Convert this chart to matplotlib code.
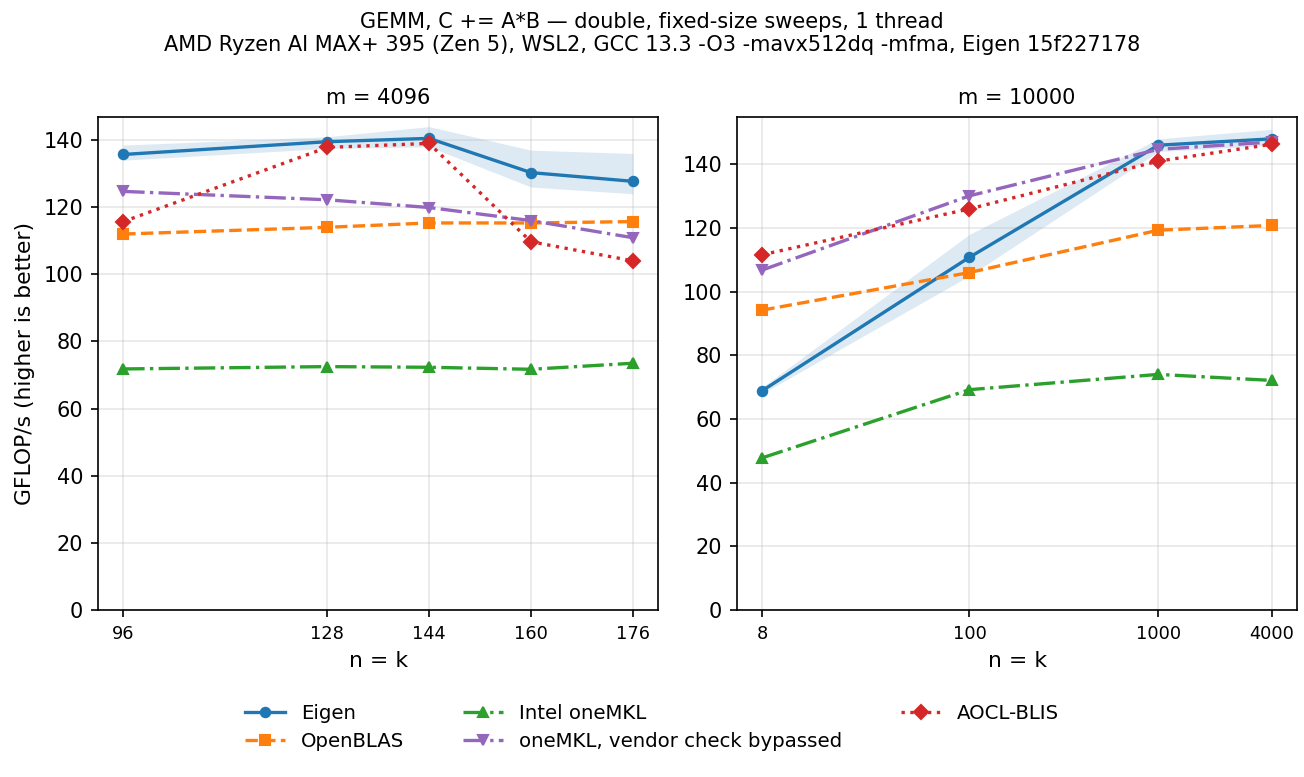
import numpy as np
import matplotlib.pyplot as plt

# m = 4096
nk_a = [96, 128, 144, 160, 176]
eigen_a = [135.7, 139.5, 140.5, 130.3, 127.7]
eigen_lo_a = [134.0, 137.5, 138.0, 126.0, 124.0]
eigen_hi_a = [138.5, 141.0, 144.0, 137.0, 136.0]
openblas_a = [112.0, 114.0, 115.3, 115.3, 115.7]
mkl_a = [71.8, 72.5, 72.3, 71.7, 73.5]
mkl_byp_a = [124.7, 122.2, 119.9, 116.0, 110.9]
blis_a = [115.7, 137.8, 139.0, 109.7, 104.0]

# m = 10000
nk_b = [8, 100, 1000, 4000]
eigen_b = [68.9, 110.8, 146.0, 148.0]
eigen_lo_b = [68.0, 105.0, 144.0, 146.0]
eigen_hi_b = [70.0, 118.0, 148.0, 151.0]
openblas_b = [94.2, 106.0, 119.3, 120.8]
mkl_b = [47.8, 69.2, 74.0, 72.1]
mkl_byp_b = [106.8, 130.1, 144.7, 147.0]
blis_b = [111.6, 126.0, 141.0, 146.3]

labels = ["Eigen", "OpenBLAS", "Intel oneMKL", "oneMKL, vendor check bypassed", "AOCL-BLIS"]
colors = ["#1f77b4", "#ff7f0e", "#2ca02c", "#9467bd", "#d62728"]
styles = ["-", "--", "-.", "-.", ":"]
markers = ["o", "s", "^", "v", "D"]

fig, axes = plt.subplots(1, 2, figsize=(1304 / 150, 777 / 150), dpi=150)

panels = [
    (axes[0], nk_a, [eigen_a, openblas_a, mkl_a, mkl_byp_a, blis_a], eigen_lo_a, eigen_hi_a, "m = 4096", 147),
    (axes[1], nk_b, [eigen_b, openblas_b, mkl_b, mkl_byp_b, blis_b], eigen_lo_b, eigen_hi_b, "m = 10000", 155),
]
for ax, x, series, lo, hi, title, ymax in panels:
    ax.fill_between(x, lo, hi, color=colors[0], alpha=0.15, lw=0)
    for s, lab, c, ls, mk in zip(series, labels, colors, styles, markers):
        ax.plot(x, s, ls=ls, marker=mk, color=c, label=lab, lw=1.6, ms=4.5)
    ax.set_title(title, fontsize=10)
    ax.set_xlabel("n = k", fontsize=10.5)
    ax.set_ylim(0, ymax)
    ax.grid(True, alpha=0.3)
    ax.tick_params(axis="x", labelsize=8.5)
    ax.tick_params(axis="y", labelsize=10)

axes[1].set_xscale("log")
axes[1].set_xticks(nk_b)
axes[1].set_xticklabels([str(v) for v in nk_b])
axes[1].minorticks_off()
axes[0].set_xticks(nk_a)
axes[0].set_ylabel("GFLOP/s (higher is better)", fontsize=10.5)

fig.suptitle("GEMM, C += A*B — double, fixed-size sweeps, 1 thread\n"
             "AMD Ryzen AI MAX+ 395 (Zen 5), WSL2, GCC 13.3 -O3 -mavx512dq -mfma, Eigen 15f227178",
             fontsize=10, y=0.985)
h, l = axes[0].get_legend_handles_labels()
fig.legend(h, l, loc="lower center", ncol=3, frameon=False, fontsize=9.5,
           bbox_to_anchor=(0.5, 0.01), columnspacing=3.0)
fig.subplots_adjust(left=0.075, right=0.995, top=0.85, bottom=0.215, wspace=0.14)
fig.savefig("out.png", dpi=150)
